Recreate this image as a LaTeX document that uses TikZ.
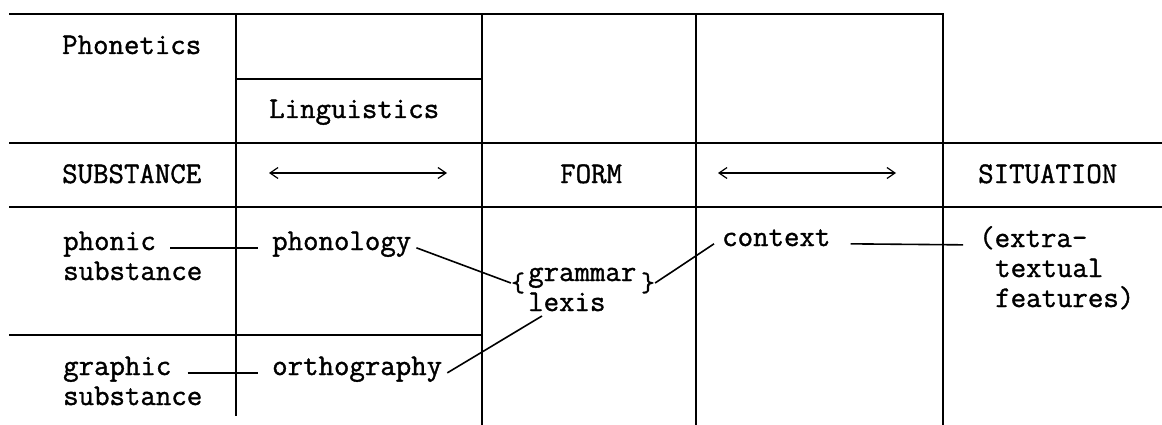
\documentclass[tikz,border=0pt]{standalone}
\usepackage{fontspec}
\setmonofont{Latin Modern Mono}[FakeBold=1.2]
\usetikzlibrary{arrows.meta}
\begin{document}
\begin{tikzpicture}[x=1pt,y=-1pt,
  rule/.style={line width=1.8pt, line cap=rect},
  lbl/.style={anchor=base west, inner sep=0pt, font=\fontsize{30}{30}\selectfont\ttfamily},
  bracesym/.style={anchor=center, inner sep=0pt, font=\fontsize{27}{27}\selectfont\ttfamily},
  link/.style={line width=1.6pt},
  dblarrow/.style={line width=1.2pt, {Straight Barb[length=8pt,width=11pt]}-{Straight Barb[length=8pt,width=11pt]}}]
\useasboundingbox (0,0) rectangle (1162,425);
% table rules
\draw[rule] (10,14) -- (943,14);
\draw[rule] (236,79) -- (482,79);
\draw[rule] (10,143) -- (1162,143);
\draw[rule] (10,207) -- (1162,207);
\draw[rule] (10,335) -- (482,335);
\draw[rule] (236,14) -- (236,415);
\draw[rule] (482,14) -- (482,425);
\draw[rule] (696,14) -- (696,425);
\draw[rule] (943,14) -- (943,425);
% labels
\node[lbl] (phonetics) at (62,54) {Phonetics};
\node[lbl] (linguistics) at (269,118) {Linguistics};
\node[lbl] (substance) at (62,183) {SUBSTANCE};
\node[lbl] (form) at (560,183) {FORM};
\node[lbl] (situation) at (978,183) {SITUATION};
\node[lbl] (phonic) at (63,250) {phonic};
\node[lbl] (phonicsub) at (63,280) {substance};
\node[lbl] (phonology) at (272,250) {phonology};
\node[lbl] (graphic) at (63,375) {graphic};
\node[lbl] (graphicsub) at (63,405) {substance};
\node[lbl] (orthography) at (272,375) {orthography};
\node[lbl] (grammar) at (528,281) {grammar};
\node[lbl] (lexis) at (528,311) {lexis};
\node[lbl] (context) at (722,246) {context};
\node[lbl] (extra) at (979,247) {(extra-};
\node[lbl] (textual) at (995,277) {textual};
\node[lbl] (features) at (995,307) {features)};
\node[bracesym] (lbr) at (518,283) {\{};
\node[bracesym] (rbr) at (648,283) {\}};
% double arrows
\coordinate (a1l) at (269,173); \coordinate (a1r) at (447,173);
\coordinate (a2l) at (718,173); \coordinate (a2r) at (896,173);
\draw[dblarrow] (a1l) -- (a1r);
\draw[dblarrow] (a2l) -- (a2r);
% connectors
\draw[link] ([xshift=14pt]phonic.mid east) -- ([xshift=-14pt]phonology.mid west);
\draw[link] ([xshift=16pt]graphic.mid east) -- ([xshift=-14pt]orthography.mid west);
\draw[link] ([xshift=20pt]context.mid east) -- ([xshift=-16pt]extra.mid west);
\draw[link] ([xshift=5pt]phonology.mid east) -- (lbr.west);
\draw[link] ([xshift=5pt]orthography.mid east) -- ([xshift=14pt,yshift=-5pt]lexis.base west);
\draw[link] (rbr.east) -- ([xshift=-8pt]context.mid west);
\end{tikzpicture}
\end{document}
